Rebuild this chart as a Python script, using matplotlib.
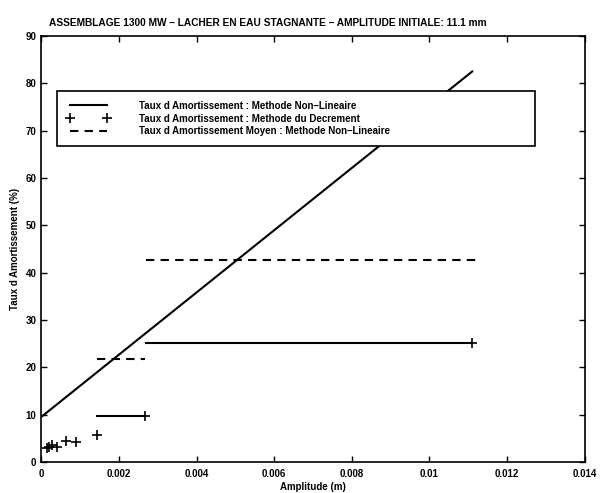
import matplotlib
matplotlib.use('Agg')
import matplotlib.pyplot as plt

# non-linear method: damping rate vs amplitude
amp_nl = [0.0, 0.0111]
taux_nl = [9.5, 82.5]

# decrement method points
amp_dec = [0.00015, 0.0002, 0.00028, 0.0004, 0.00064, 0.0009, 0.00144, 0.00268, 0.0111]
taux_dec = [3.0, 3.2, 3.5, 3.1, 4.5, 4.3, 5.7, 9.7, 25.2]

# decrement method ranges (solid horizontal segments)
seg_x0 = [0.00143, 0.0027]
seg_x1 = [0.00268, 0.0111]
seg_y = [9.7, 25.2]

# mean damping rate, non-linear method (dashed segments)
moy_x0 = [0.00143, 0.0027]
moy_x1 = [0.00268, 0.0112]
moy_y = [21.7, 42.7]

plt.rcParams['font.family'] = ['Liberation Sans', 'DejaVu Sans']
plt.rcParams['font.weight'] = 'bold'

fig = plt.figure(figsize=(6.06, 4.93), dpi=100)
ax = fig.add_axes([0.068, 0.063, 0.897, 0.864])

l1, = ax.plot(amp_nl, taux_nl, color='black', lw=1.5, label='Taux d Amortissement : Methode Non\u2013Lineaire')
l2, = ax.plot(amp_dec, taux_dec, '+', color='black', ms=7, mew=1.2, label='Taux d Amortissement : Methode du Decrement')
for x0, x1, y in zip(seg_x0, seg_x1, seg_y):
    ax.plot([x0, x1], [y, y], color='black', lw=1.5)
l3 = None
for i, (x0, x1, y) in enumerate(zip(moy_x0, moy_x1, moy_y)):
    ln, = ax.plot([x0, x1], [y, y], color='black', lw=1.5, ls=(0, (4, 3)))
    if i == 0:
        l3 = ln
l3.set_label('Taux d Amortissement Moyen : Methode Non\u2013Lineaire')

ax.set_xlim(0, 0.014)
ax.set_ylim(0, 90)
ax.set_xticks([0, 0.002, 0.004, 0.006, 0.008, 0.01, 0.012, 0.014])
ax.set_xticklabels(['0', '0.002', '0.004', '0.006', '0.008', '0.01', '0.012', '0.014'])
ax.set_yticks(range(0, 91, 10))
ax.tick_params(direction='in', top=True, right=True, labelsize=7, length=4, width=1)
ax.tick_params(axis='x', pad=5)
for s in ax.spines.values():
    s.set_linewidth(1.2)

ax.set_xlabel('Amplitude (m)', fontsize=7, labelpad=2, fontweight='bold')
ax.set_ylabel("Taux d Amortissement (%)", fontsize=7, labelpad=4, fontweight='bold')
ax.text(0.417, 1.018, 'ASSEMBLAGE 1300 MW \u2013 LACHER EN EAU STAGNANTE \u2013 AMPLITUDE INITIALE: 11.1 mm',
        transform=ax.transAxes, ha='center', va='bottom', fontsize=7.3, fontweight='bold')

leg = ax.legend(handles=[l1, l2, l3], loc='upper left', bbox_to_anchor=(0.029, 0.725, 0.88, 0.146),
                mode='expand', borderaxespad=0, fontsize=7, numpoints=2, handlelength=4.4,
                handletextpad=3, borderpad=1.0, labelspacing=0.3, fancybox=False,
                edgecolor='black', framealpha=1)
leg.get_frame().set_linewidth(1.2)

fig.savefig('out.png', dpi=100)
